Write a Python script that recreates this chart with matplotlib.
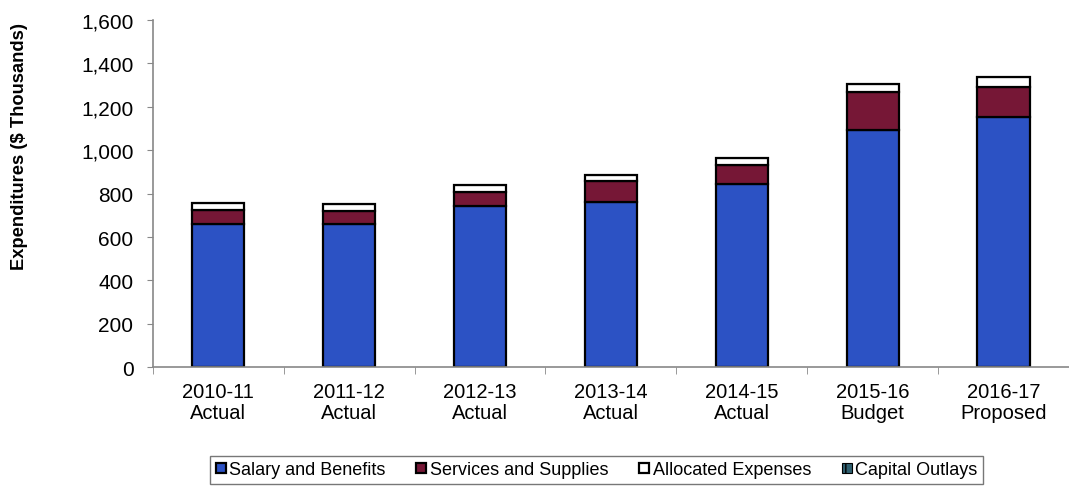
import numpy as np
import matplotlib.pyplot as plt

plt.rcParams['font.family'] = ['Liberation Sans', 'DejaVu Sans']

categories = ['2010-11\nActual', '2011-12\nActual', '2012-13\nActual', '2013-14\nActual',
              '2014-15\nActual', '2015-16\nBudget', '2016-17\nProposed']
salary = [660, 660, 743, 763, 846, 1095, 1155]
services = [64, 60, 63, 95, 88, 172, 135]
allocated = [32, 31, 34, 26, 31, 37, 49]
capital = [0, 0, 0, 0, 0, 0, 0]

x = np.arange(len(categories))
w = 0.40

fig = plt.figure(figsize=(10.69, 4.89), dpi=100)
ax = fig.add_axes([0.143, 0.247, 0.857, 0.71])

b1 = ax.bar(x, salary, w, color='#2C52C4', edgecolor='black', linewidth=1.6,
            label='Salary and Benefits')
bottom = np.array(salary)
b2 = ax.bar(x, services, w, bottom=bottom, color='#761736', edgecolor='black',
            linewidth=1.6, label='Services and Supplies')
bottom = bottom + np.array(services)
b3 = ax.bar(x, allocated, w, bottom=bottom, color='white', edgecolor='black',
            linewidth=1.6, label='Allocated Expenses')
bottom = bottom + np.array(allocated)
b4 = ax.bar(x, capital, w, bottom=bottom, color='#2F5F6F', edgecolor='black',
            linewidth=0.8, hatch='||', label='Capital Outlays')

ax.set_xlim(-0.5, len(categories) - 0.5)
ax.set_ylim(0, 1600)
ax.set_yticks(np.arange(0, 1601, 200))
ax.set_yticklabels([f'{v:,}' for v in range(0, 1601, 200)], fontsize=15)
ax.set_xticks(x)
ax.set_xticklabels(categories, fontsize=14.5, linespacing=1.12)
ax.set_xticks(np.arange(-0.5, len(categories)), minor=True)
ax.tick_params(axis='x', which='major', length=0, pad=11)
ax.tick_params(axis='x', which='minor', length=5, color='#888888', direction='out')
ax.tick_params(axis='y', length=4, color='#888888', pad=10)

ax.set_ylabel('Expenditures ($ Thousands)', fontsize=13.2, fontweight='bold')
ax.yaxis.set_label_coords(-0.136, 0.64)

for s in ['top', 'right']:
    ax.spines[s].set_visible(False)
for s in ['left', 'bottom']:
    ax.spines[s].set_color('#888888')
    ax.spines[s].set_linewidth(1.2)

leg = fig.legend(handles=[b1, b2, b3, b4], loc='center', bbox_to_anchor=(0.558, 0.037),
                 ncol=4, fontsize=13, frameon=True, fancybox=False, edgecolor='#555555',
                 handlelength=0.55, handleheight=0.55, handletextpad=0.2, columnspacing=1.7,
                 borderpad=0.3)
leg.get_frame().set_linewidth(1.0)

fig.savefig('out.png', dpi=100)
